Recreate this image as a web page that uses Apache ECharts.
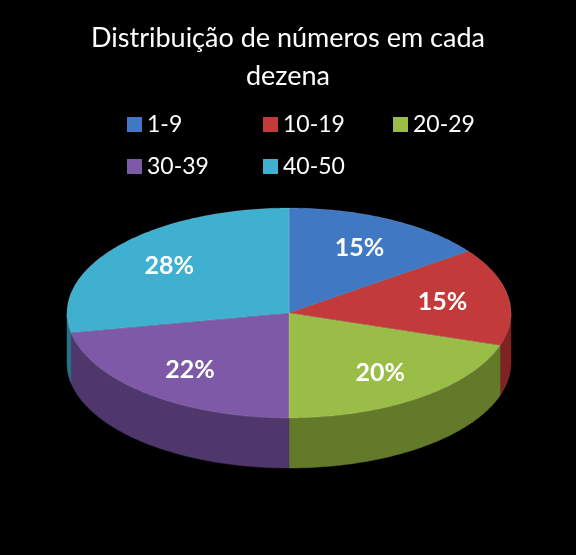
<!DOCTYPE html>
<html>
<head>
<meta charset="utf-8">
<script src="https://cdn.jsdelivr.net/npm/echarts@6/dist/echarts.min.js"></script>
<style>html,body{margin:0;background:#000}#c{width:576px;height:555px}</style>
</head>
<body>
<div id="c"></div>
<script>
// dados do gráfico
const categories = ['1-9', '10-19', '20-29', '30-39', '40-50']
const values = [15, 15, 20, 22, 28]
const labels = ['15%', '15%', '20%', '22%', '28%']
const topColors = ['#4078c4', '#c23b3a', '#9abd47', '#7d59a8', '#3fb0d0']
const sideColors = ['#274d80', '#7e2322', '#627a2a', '#4f376c', '#26728a']

const cx = 289, cy = 313, rx = 222, ry = 105, depth = 50
const total = values.reduce((s, v) => s + v, 0)
const starts = []
values.reduce((acc, v) => { starts.push(acc); return acc + v }, 0)

function pt(phi, dy) {
  return [cx + rx * Math.cos(phi), cy + ry * Math.sin(phi) + (dy || 0)]
}

function arc(a0, a1, dy) {
  const pts = []
  const n = Math.max(8, Math.ceil((a1 - a0) * 60))
  for (let i = 0; i <= n; i++) pts.push(pt(a0 + (a1 - a0) * i / n, dy))
  return pts
}

function makeRender(k) {
  return function (params, api) {
    const v = api.value(0)
    const a0 = -Math.PI / 2 + starts[k] / total * Math.PI * 2
    const a1 = a0 + v / total * Math.PI * 2
    const children = []
    // parede lateral (metade frontal)
    const ranges = [[0, Math.PI], [2 * Math.PI, 3 * Math.PI]]
    ranges.forEach(([f0, f1]) => {
      const s = Math.max(a0, f0), e = Math.min(a1, f1)
      if (e > s) {
        const top = arc(s, e, 0)
        const bot = arc(s, e, depth).reverse()
        children.push({
          type: 'polygon', z2: 1,
          shape: { points: top.concat(bot) },
          style: { fill: sideColors[k], stroke: sideColors[k], lineWidth: 0.5 }
        })
      }
    })
    children.push({
      type: 'polygon', z2: 5,
      shape: { points: [[cx, cy]].concat(arc(a0, a1, 0)) },
      style: { fill: topColors[k], stroke: 'rgba(255,255,255,0.25)', lineWidth: 0.5 }
    })
    const m = (a0 + a1) / 2
    children.push({
      type: 'text', z2: 10,
      style: {
        text: labels[k], x: cx + rx * 0.7 * Math.cos(m), y: cy + ry * 0.7 * Math.sin(m),
        fill: '#fff', font: 'bold 25px Lato, "Open Sans", sans-serif',
        align: 'center', verticalAlign: 'middle'
      }
    })
    return { type: 'group', children }
  }
}

const legendPos = [[122, 108], [258, 108], [388, 108], [122, 150], [258, 150]]

const chart = echarts.init(document.getElementById('c'))
chart.setOption({
  backgroundColor: '#000',
  title: {
    text: 'Distribuição de números em cada\ndezena',
    left: 'center', top: 14,
    textStyle: { color: '#fff', fontSize: 27, fontWeight: 'normal', fontFamily: 'Lato, "Open Sans", sans-serif', lineHeight: 38 }
  },
  legend: categories.map((c, i) => ({
    data: [c], left: legendPos[i][0], top: legendPos[i][1],
    icon: 'rect', itemWidth: 15, itemHeight: 15, itemGap: 6,
    textStyle: { color: '#fff', fontSize: 23, fontFamily: 'Lato, "Open Sans", sans-serif' },
    selectedMode: false
  })),
  series: categories.map((c, i) => ({
    type: 'custom', name: c,
    coordinateSystem: 'none',
    itemStyle: { color: topColors[i] },
    renderItem: makeRender(i),
    data: [[values[i]]],
    animation: false
  }))
})
</script>
</body>
</html>
